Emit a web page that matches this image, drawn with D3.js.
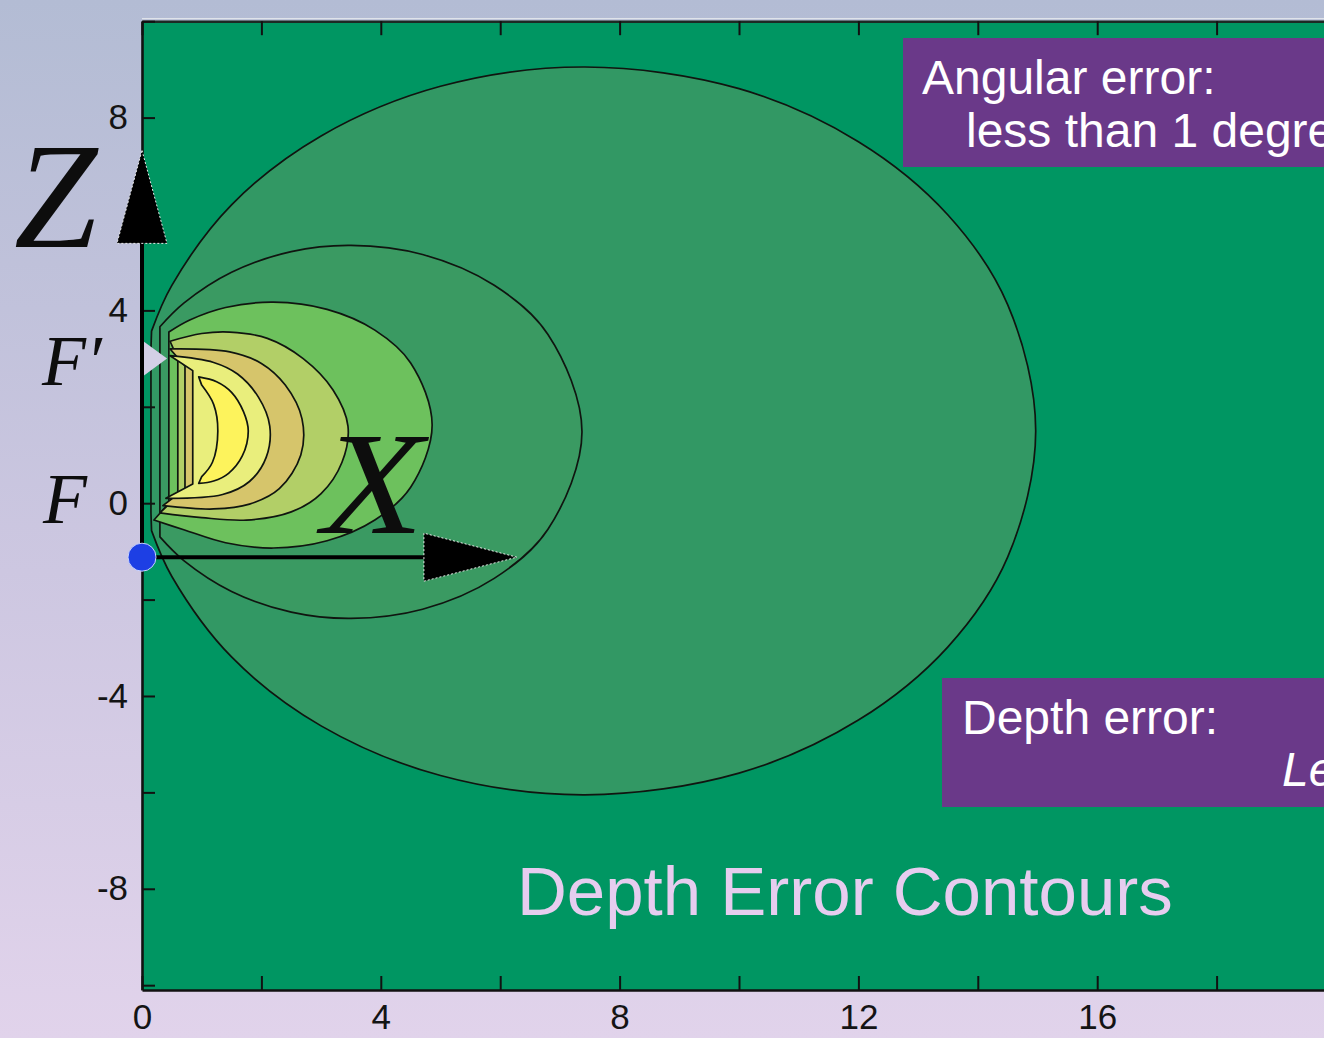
<!DOCTYPE html>
<html>
<head>
<meta charset="utf-8">
<script src="https://cdn.jsdelivr.net/npm/d3@7/dist/d3.min.js"></script>
<style>
  html, body { margin: 0; padding: 0; overflow: hidden; }
  svg { display: block; }
</style>
</head>
<body>
<svg id="chart" width="1324" height="1038"></svg>
<script>
// ---- axis ticks ----
const xTicks = [0, 2, 4, 6, 8, 10, 12, 14, 16, 18, 20];
const xTickLabels = [0, 4, 8, 12, 16];
const zTicks = [-10, -8, -6, -4, -2, 0, 2, 4, 6, 8, 10];
const zTickLabels = [8, 4, 0, -4, -8];

// ---- key points (x, z) ----
const focusF = [0, 0];
const focusFp = [0, 3.0];
const origin = [0, -1.12];
const zArrowTip = [0, 7.32];
const xArrowTip = [6.28, -1.12];

// ---- depth-error contour levels, outermost first ----
const levelColors = ["#329864", "#3a9a62", "#6dc15d", "#b2cf67", "#d6c56b", "#e9ee7c", "#fdf35c"];

// outer boundary of each level, traced from the top end near F' round to the bottom end near F
const levelArcs = [
  [[0.16, 3.57], [0.5, 4.52], [1.5, 6.19], [3.0, 7.62], [5.0, 8.65], [7.42, 9.05], [10.0, 8.6], [12.0, 7.5], [13.5, 5.98], [14.5, 4.12], [14.97, 1.5], [14.5, -1.12], [13.5, -2.98], [12.0, -4.5], [10.0, -5.6], [7.42, -6.05], [5.0, -5.65], [3.0, -4.62], [1.5, -3.19], [0.5, -1.52], [0.16, -0.57]],
  [[0.3, 3.66], [0.7, 4.15], [1.5, 4.79], [2.5, 5.22], [3.5, 5.35], [4.7, 5.16], [5.9, 4.52], [6.8, 3.5], [7.37, 1.48], [6.8, -0.54], [5.9, -1.56], [4.7, -2.2], [3.5, -2.39], [2.5, -2.26], [1.5, -1.83], [0.7, -1.19], [0.3, -0.7]],
  [[0.45, 3.55], [0.8, 3.8], [1.4, 4.06], [2.2, 4.17], [3.1, 4.02], [3.9, 3.59], [4.5, 2.91], [4.86, 1.62], [4.5, 0.33], [3.9, -0.35], [3.1, -0.78], [2.2, -0.93], [1.4, -0.82], [0.7, -0.55], [0.2, -0.35]],
  [[0.47, 3.36], [1.0, 3.52], [1.47, 3.55], [2.1, 3.42], [2.7, 3.0], [3.2, 2.35], [3.45, 1.6], [3.35, 0.85], [3.0, 0.2], [2.5, -0.18], [1.75, -0.35], [1.0, -0.3], [0.3, -0.2]],
  [[0.47, 3.2], [1.47, 3.14], [2.0, 2.9], [2.4, 2.45], [2.68, 1.75], [2.66, 1.0], [2.3, 0.3], [1.8, -0.02], [1.2, -0.12], [0.35, -0.05]],
  [[0.47, 3.06], [1.2, 2.92], [1.6, 2.68], [1.95, 2.2], [2.14, 1.6], [2.08, 0.95], [1.8, 0.45], [1.35, 0.18], [0.4, 0.1]],
  [[0.95, 2.62], [1.25, 2.52], [1.5, 2.3], [1.7, 1.9], [1.78, 1.5], [1.68, 0.98], [1.45, 0.62], [1.2, 0.46], [0.95, 0.41]]
];

// inner boundary of each level near the Z axis, traced from bottom back to top
const levelEdges = [
  [[0.15, -0.2], [0.15, 1.5], [0.15, 3.2]],
  [[0.3, -0.3], [0.3, 1.5], [0.3, 3.25]],
  [[0.45, 0.0], [0.45, 1.5], [0.45, 3.15]],
  [[0.6, 0.15], [0.6, 1.5], [0.6, 3.0]],
  [[0.72, 0.3], [0.72, 1.5], [0.72, 2.85]],
  [[0.85, 0.4], [0.85, 1.5], [0.85, 2.75]],
  [[1.0, 0.55], [1.18, 0.85], [1.27, 1.5], [1.2, 2.05], [1.0, 2.45]]
];

// ---- layout ----
const W = 1324, H = 1038;
const x = d3.scaleLinear().domain([0, 20]).range([142, 142 + 20 * 59.7]);
const y = d3.scaleLinear().domain([-10.1, 10]).range([990, 21.2]);

const svg = d3.select("#chart");
const defs = svg.append("defs");

const bg = defs.append("linearGradient").attr("id", "slideBg")
  .attr("x1", 0).attr("y1", 0).attr("x2", 0).attr("y2", 1);
bg.append("stop").attr("offset", "0%").attr("stop-color", "#b3bcd4");
bg.append("stop").attr("offset", "55%").attr("stop-color", "#cdc7e1");
bg.append("stop").attr("offset", "100%").attr("stop-color", "#e1d3eb");

svg.append("rect").attr("width", W).attr("height", H).attr("fill", "url(#slideBg)");

defs.append("clipPath").attr("id", "plotClip")
  .append("rect")
  .attr("x", x(0)).attr("y", y(10))
  .attr("width", x(20) - x(0)).attr("height", y(-10.1) - y(10));

// plot background
svg.append("rect")
  .attr("x", x(0)).attr("y", y(10))
  .attr("width", x(20) - x(0)).attr("height", y(-10.1) - y(10))
  .attr("fill", "#009662");

// contour bands
const arcLine = d3.line().x(d => x(d[0])).y(d => y(d[1])).curve(d3.curveCatmullRom.alpha(0.5));
const contourPath = (arc, edge) => arcLine(arc) + arcLine(edge).replace(/^M/, "L") + "Z";

const plot = svg.append("g").attr("clip-path", "url(#plotClip)");
plot.selectAll("path.level")
  .data(levelArcs.map((arc, i) => ({ arc, edge: levelEdges[i], color: levelColors[i] })))
  .join("path")
  .attr("class", "level")
  .attr("d", d => contourPath(d.arc, d.edge))
  .attr("fill", d => d.color)
  .attr("stroke", "#101510")
  .attr("stroke-width", 1.7)
  .attr("stroke-linejoin", "round");

// F' marker
plot.append("path")
  .attr("d", `M${x(focusFp[0])},${y(focusFp[1] + 0.38)} L${x(focusFp[0] + 0.42)},${y(focusFp[1])} L${x(focusFp[0])},${y(focusFp[1] - 0.38)} Z`)
  .attr("fill", "#d3cfe6");

// ---- axes ----
const axisStyle = g => {
  g.select(".domain").attr("stroke", "#111").attr("stroke-width", 2.6);
  g.selectAll(".tick line").attr("stroke", "#111").attr("stroke-width", 2);
  g.selectAll(".tick text")
    .attr("fill", "#141414")
    .attr("font-family", "'Liberation Sans', Arial, sans-serif")
    .attr("font-size", 35);
};

// pale rule just above the top frame
svg.append("line")
  .attr("x1", x(0)).attr("x2", W).attr("y1", y(10) - 2.5).attr("y2", y(10) - 2.5)
  .attr("stroke", "#dfe3ea").attr("stroke-width", 1.2);

svg.append("g")
  .attr("transform", `translate(0,${y(-10.1)})`)
  .call(d3.axisBottom(x).tickValues(xTicks).tickSize(-14).tickSizeOuter(0).tickPadding(14)
    .tickFormat(d => xTickLabels.includes(d) ? d : ""))
  .call(axisStyle);

svg.append("g")
  .attr("transform", `translate(0,${y(10)})`)
  .call(d3.axisTop(x).tickValues(xTicks).tickSize(-14).tickSizeOuter(0).tickFormat(""))
  .call(axisStyle)
  .call(g => g.select(".domain").attr("stroke", "#1d2a24"));

svg.append("g")
  .attr("transform", `translate(${x(0)},0)`)
  .call(d3.axisLeft(y).tickValues(zTicks).tickSize(-13).tickSizeOuter(0).tickPadding(14)
    .tickFormat(d => zTickLabels.includes(d) ? d : ""))
  .call(axisStyle);

// ---- coordinate arrows ----
const arrows = svg.append("g");
// Z arrow
arrows.append("line")
  .attr("x1", x(origin[0])).attr("y1", y(origin[1]))
  .attr("x2", x(zArrowTip[0])).attr("y2", y(zArrowTip[1]) + 90)
  .attr("stroke", "#000").attr("stroke-width", 4);
arrows.append("path")
  .attr("d", `M${x(zArrowTip[0])},${y(zArrowTip[1])} l25,93 h-50 Z`)
  .attr("fill", "#000").attr("stroke", "#e9e9e9").attr("stroke-width", 1).attr("stroke-dasharray", "2,2");
// X arrow
arrows.append("line")
  .attr("x1", x(origin[0])).attr("y1", y(origin[1]))
  .attr("x2", x(xArrowTip[0]) - 90).attr("y2", y(xArrowTip[1]))
  .attr("stroke", "#000").attr("stroke-width", 4);
arrows.append("path")
  .attr("d", `M${x(xArrowTip[0])},${y(xArrowTip[1])} l-93,-24 v48 Z`)
  .attr("fill", "#000").attr("stroke", "#e9e9e9").attr("stroke-width", 1).attr("stroke-dasharray", "2,2");

// origin dot
svg.append("circle")
  .attr("cx", x(origin[0])).attr("cy", y(origin[1])).attr("r", 14)
  .attr("fill", "#1d3fe4").attr("stroke", "#c9d2ff").attr("stroke-width", 1);

// ---- symbol labels ----
const serif = "'Liberation Serif', 'DejaVu Serif', 'Times New Roman', serif";
svg.append("text").attr("x", 14).attr("y", 247).text("Z")
  .attr("font-family", serif).attr("font-style", "italic").attr("font-size", 150).attr("fill", "#0d0d0d");
svg.append("text").attr("transform", "translate(322,533) scale(1.14,1)").text("X")
  .attr("font-family", serif).attr("font-style", "italic").attr("font-size", 146).attr("fill", "#0d0d0d");
svg.append("text").attr("x", 42).attr("y", 385).text("F′")
  .attr("font-family", serif).attr("font-style", "italic").attr("font-size", 72).attr("fill", "#0d0d0d");
svg.append("text").attr("x", 43).attr("y", 523).text("F")
  .attr("font-family", serif).attr("font-style", "italic").attr("font-size", 72).attr("fill", "#0d0d0d");

// ---- annotation boxes ----
const sans = "'Liberation Sans', Arial, Helvetica, sans-serif";
svg.append("rect").attr("x", 903).attr("y", 38).attr("width", 440).attr("height", 129).attr("fill", "#6a3989");
svg.append("text").attr("x", 922).attr("y", 94).text("Angular error:")
  .attr("font-family", sans).attr("font-size", 48).attr("fill", "#ffffff");
svg.append("text").attr("x", 966).attr("y", 147).text("less than 1 degree")
  .attr("font-family", sans).attr("font-size", 48).attr("fill", "#ffffff");

svg.append("rect").attr("x", 942).attr("y", 678).attr("width", 400).attr("height", 129).attr("fill", "#6a3989");
svg.append("text").attr("x", 962).attr("y", 734).text("Depth error:")
  .attr("font-family", sans).attr("font-size", 48).attr("fill", "#ffffff");
svg.append("text").attr("x", 1282).attr("y", 786).text("Le")
  .attr("font-family", sans).attr("font-style", "italic").attr("font-size", 48).attr("fill", "#ffffff");

// ---- caption ----
svg.append("text").attr("x", 517).attr("y", 915).text("Depth Error Contours")
  .attr("font-family", sans).attr("font-size", 69).attr("fill", "#e6cdef");
</script>
</body>
</html>
